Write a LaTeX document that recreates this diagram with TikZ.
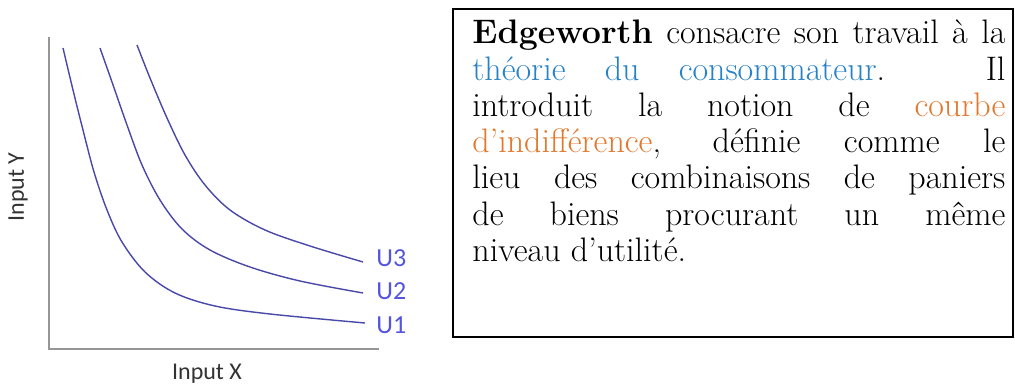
\documentclass[tikz,border=0pt]{standalone}
\usepackage{fontspec}
\usepackage{xcolor}
\newfontfamily\chartfont{Carlito}
\usetikzlibrary{positioning}

\definecolor{curveblue}{RGB}{72,72,168}
\definecolor{labelblue}{RGB}{84,84,222}
\definecolor{axisgray}{RGB}{150,150,150}
\definecolor{theoblue}{RGB}{40,130,200}
\definecolor{courbeorange}{RGB}{226,120,44}

\begin{document}
\begin{tikzpicture}[
  x=0.5pt,y=-0.5pt,
  axis/.style={draw=axisgray,line width=1pt},
  curve/.style={draw=curveblue,line width=0.7pt},
  ulabel/.style={font=\chartfont\fontsize{13}{15}\selectfont,text=labelblue,inner sep=0pt,anchor=west},
  axlabel/.style={font=\chartfont\fontsize{12}{14}\selectfont,text=black!80,inner sep=0pt},
  textbox/.style={draw,line width=0.8pt},
  para/.style={inner sep=0pt,anchor=base west,text width=266.5pt,align=justify,
    font=\fontsize{17}{18.1}\selectfont}
]
\useasboundingbox (0,0) rectangle (1015,385);

% axes
\coordinate (origin) at (49,349);
\coordinate (ytop) at (49,37);
\coordinate (xend) at (379,349);
\draw[axis] (ytop) -- (origin) -- (xend);
\node[axlabel,rotate=90] (ylab) at (18,187) {Input Y};
\node[axlabel] (xlab) at (207,374) {Input X};

% indifference curves
\draw[curve] plot[smooth,tension=0.55] coordinates {(63,48) (73,90) (83,130) (94,172) (107,210) (122,242) (145,272) (175,293) (215,306) (270,314) (365,323)};
\draw[curve] plot[smooth,tension=0.55] coordinates {(100,48) (112,82) (127,125) (142,165) (160,200) (182,229) (210,250) (250,267) (300,281) (363,293)};
\draw[curve] plot[smooth,tension=0.55] coordinates {(137,45) (150,78) (167,118) (185,155) (205,185) (230,210) (265,230) (310,246) (363,262)};
\node[ulabel] (u3) at (376,258) {U3};
\node[ulabel] (u2) at (376,291) {U2};
\node[ulabel] (u1) at (376,325) {U1};

% definition box
\draw[textbox] (453,9) rectangle (1013,337);
\node[para] (def) at (472,44) {\textbf{Edgeworth} consacre son travail à la\linebreak
\textcolor{theoblue}{théorie du consommateur}. Il\linebreak
introduit la notion de \textcolor{courbeorange}{courbe}\linebreak
\textcolor{courbeorange}{d’indifférence}, définie comme le\linebreak
lieu des combinaisons de paniers\linebreak
de biens procurant un même\linebreak
niveau d’utilité.};
\end{tikzpicture}
\end{document}
